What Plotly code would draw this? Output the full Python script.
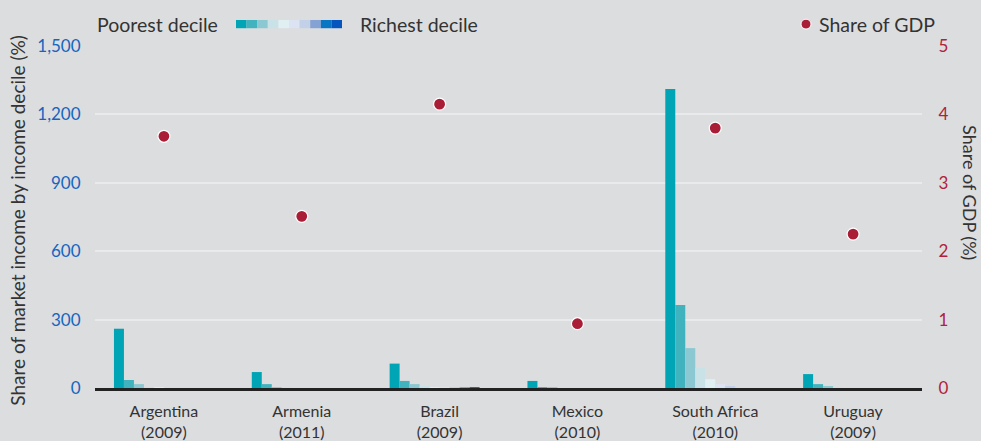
import plotly.graph_objects as go

countries = ["Argentina<br>(2009)", "Armenia<br>(2011)", "Brazil<br>(2009)",
             "Mexico<br>(2010)", "South Africa<br>(2010)", "Uruguay<br>(2009)"]

# share of market income by decile (%), poorest -> richest
d1 = [260, 70, 107, 31, 1311, 61]
d2 = [35, 17, 31, 3, 364, 17]
d3 = [17, 4, 17, 3, 175, 8]
d4 = [4, 1, 7, 0, 88, 2]
d5 = [2, 0, 4, 0, 39, 0]
d6 = [0, 0, 1, 0, 17, 0]
d7 = [0, 0, 2, 0, 8, 0]
d8 = [0, 0, 2, 0, 0, 0]
d9 = [0, 0, 2, 0, 0, 0]
d10 = [0, 0, 0, 0, 0, 0]
deciles = [d1, d2, d3, d4, d5, d6, d7, d8, d9, d10]

share_gdp = [3.68, 2.51, 4.15, 0.94, 3.80, 2.25]

decile_colors = ["#00A5B5", "#40B3BF", "#8CC8D2", "#C8E2E8", "#E0F0F2",
                 "#DCE3F2", "#C2D0E8", "#84A3D4", "#0A75C2", "#0455BE"]

left_ticks = [0, 300, 600, 900, 1200, 1500]
right_ticks = [0, 1, 2, 3, 4, 5]

FONT = "Lato, 'Open Sans', sans-serif"
BG = "#DCDDDF"
TXT = "#333333"
RED = "#A91D36"

fig = go.Figure()
for i, vals in enumerate(deciles):
    fig.add_trace(go.Bar(x=countries, y=vals, marker=dict(color=decile_colors[i], line=dict(width=0)),
                         showlegend=False, name=f"Decile {i + 1}"))

fig.add_trace(go.Scatter(x=countries, y=share_gdp, mode="markers", yaxis="y2", name="Share of GDP",
                         showlegend=False,
                         marker=dict(color=RED, size=12, line=dict(color="white", width=1.2))))

fig.update_layout(
    width=981, height=441,
    paper_bgcolor=BG, plot_bgcolor=BG,
    margin=dict(l=95, r=59, t=46, b=53, autoexpand=False),
    font=dict(family=FONT, size=15, color=TXT),
    barmode="group", bargap=0.275, bargroupgap=0,
    xaxis=dict(showgrid=False, showline=True, linecolor="#222222", linewidth=3,
               ticks="outside", ticklen=7, tickcolor="rgba(0,0,0,0)",
               tickfont=dict(size=16, color=TXT), automargin=False),
    yaxis=dict(range=[0, 1500], tickvals=left_ticks, ticktext=[f"{v:,}" for v in left_ticks],
               tickfont=dict(size=17, color="#1565C0"), gridcolor="#E9EAEC", gridwidth=2,
               zeroline=False, ticks="outside", ticklen=10, tickcolor="rgba(0,0,0,0)", automargin=False),
    yaxis2=dict(range=[0, 5], overlaying="y", side="right", tickvals=right_ticks,
                tickfont=dict(size=17, color="#B0223A"), showgrid=False, zeroline=False,
                ticks="outside", ticklen=12, tickcolor="rgba(0,0,0,0)", automargin=False),
    showlegend=False,
)

fig.add_annotation(text="Share of market income by income decile (%)", xref="paper", yref="paper",
                   x=-0.094, y=0.49, xanchor="center", yanchor="middle", textangle=-90,
                   showarrow=False, font=dict(size=19, color=TXT))
fig.add_annotation(text="Share of GDP (%)", xref="paper", yref="paper",
                   x=1.058, y=0.57, xanchor="center", yanchor="middle", textangle=90,
                   showarrow=False, font=dict(size=18, color=TXT))

# custom gradient legend for deciles
fig.add_annotation(text="Poorest decile", xref="paper", yref="paper", x=0.0, y=1.064,
                   xanchor="left", yanchor="middle", showarrow=False, font=dict(size=19.5, color=TXT))
fig.add_annotation(text="Richest decile", xref="paper", yref="paper", x=0.318, y=1.064,
                   xanchor="left", yanchor="middle", showarrow=False, font=dict(size=19.5, color=TXT))
sw_x0 = (236 - 95) / 827
sw_w = 10.6 / 827
for i, c in enumerate(decile_colors):
    fig.add_shape(type="rect", xref="paper", yref="paper",
                  x0=sw_x0 + i * sw_w, x1=sw_x0 + (i + 1) * sw_w, y0=1.052, y1=1.076,
                  fillcolor=c, line=dict(width=0))

# share of GDP legend entry
fig.add_shape(type="circle", xref="paper", yref="paper",
              x0=(801 - 95) / 827, x1=(811 - 95) / 827, y0=1.0495, y1=1.0785,
              fillcolor=RED, line=dict(color="white", width=1))
fig.add_annotation(text="Share of GDP", xref="paper", yref="paper", x=(817 - 95) / 827, y=1.064,
                   xanchor="left", yanchor="middle", showarrow=False, font=dict(size=19.5, color=TXT))

# drop the default page margin so the figure fills the window
fig.write_html("out.html", config={"displayModeBar": False},
               post_script="document.body.style.margin='0';"
                           "document.body.style.background='#DCDDDF';")
